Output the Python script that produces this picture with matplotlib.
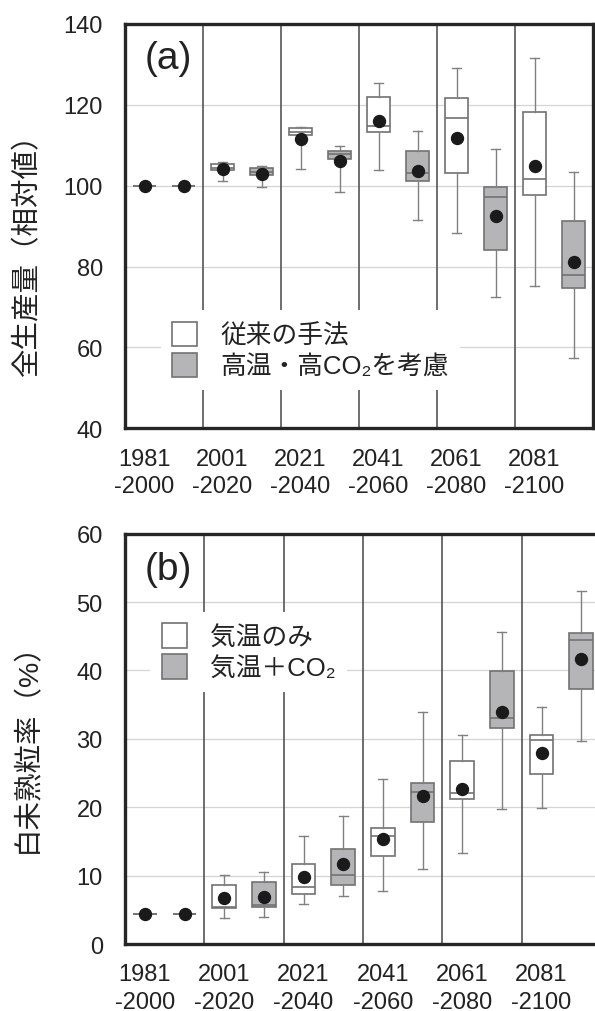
import matplotlib.pyplot as plt
from matplotlib.patches import Patch

plt.rcParams["font.family"] = ["Liberation Sans", "Noto Sans CJK JP", "DejaVu Sans"]

PERIODS = ["1981\n-2000", "2001\n-2020", "2021\n-2040",
           "2041\n-2060", "2061\n-2080", "2081\n-2100"]

# (a) total production, relative value (1981-2000 = 100)
A_CONV_LO = [100, 101.1, 104.2, 104.0, 88.3, 75.1]
A_CONV_Q1 = [100, 104.0, 112.6, 113.4, 103.2, 97.7]
A_CONV_MED = [100, 104.5, 113.4, 114.8, 116.8, 101.7]
A_CONV_Q3 = [100, 105.3, 114.3, 122.0, 121.6, 118.2]
A_CONV_HI = [100, 105.9, 114.5, 125.3, 129.1, 131.7]
A_CONV_MEAN = [100, 104.1, 111.6, 116.1, 111.9, 104.9]

A_CO2_LO = [100, 99.8, 98.5, 91.6, 72.5, 57.5]
A_CO2_Q1 = [100, 102.7, 106.5, 101.1, 84.1, 74.8]
A_CO2_MED = [100, 103.5, 107.9, 103.2, 97.1, 78.0]
A_CO2_Q3 = [100, 104.3, 108.6, 108.7, 99.7, 91.2]
A_CO2_HI = [100, 104.9, 109.7, 113.6, 109.0, 103.4]
A_CO2_MEAN = [100, 103.0, 106.2, 103.7, 92.6, 81.1]

# (b) chalky grain ratio (%)
B_TEMP_LO = [4.4, 3.85, 5.85, 7.75, 13.3, 19.95]
B_TEMP_Q1 = [4.4, 5.2, 7.35, 12.8, 21.2, 24.9]
B_TEMP_MED = [4.4, 5.4, 8.3, 15.8, 22.1, 29.8]
B_TEMP_Q3 = [4.4, 8.6, 11.75, 16.9, 26.8, 30.5]
B_TEMP_HI = [4.4, 10.1, 15.8, 24.1, 30.6, 34.6]
B_TEMP_MEAN = [4.4, 6.7, 9.75, 15.4, 22.7, 28.0]

B_CO2_LO = [4.4, 4.0, 7.0, 10.9, 19.7, 29.7]
B_CO2_Q1 = [4.4, 5.4, 8.7, 17.9, 31.55, 37.3]
B_CO2_MED = [4.4, 5.65, 10.05, 22.2, 33.0, 44.5]
B_CO2_Q3 = [4.4, 9.0, 13.85, 23.6, 39.95, 45.5]
B_CO2_HI = [4.4, 10.5, 18.7, 34.0, 45.6, 51.6]
B_CO2_MEAN = [4.4, 6.9, 11.65, 21.7, 33.9, 41.7]

GRAY = "#b5b5b8"
EDGE = "#727272"
TEXT = "#222222"


def make_stats(lo, q1, med, q3, hi, mean):
    return [dict(whislo=a, q1=b, med=c, q3=d, whishi=e, mean=f, fliers=[])
            for a, b, c, d, e, f in zip(lo, q1, med, q3, hi, mean)]


def draw_boxes(ax, stats, offset, face):
    positions = [i + offset for i in range(len(stats))]
    ax.bxp(stats, positions=positions, widths=0.3, capwidths=0.11,
           patch_artist=True, showmeans=True, showfliers=False,
           boxprops=dict(facecolor=face, edgecolor=EDGE, linewidth=1.2),
           medianprops=dict(color=EDGE, linewidth=1.2),
           whiskerprops=dict(color="#808080", linewidth=1.0),
           capprops=dict(color="#808080", linewidth=1.0),
           meanprops=dict(marker="o", markerfacecolor="#1a1a1a",
                          markeredgecolor="#1a1a1a", markersize=8.6),
           zorder=3)


def style_axes(ax, ylim, step):
    ax.set_xlim(0, 6)
    ax.set_ylim(*ylim)
    ax.set_yticks(range(ylim[0], ylim[1] + 1, step))
    ax.set_xticks([i + 0.25 for i in range(6)])
    ax.set_xticklabels(PERIODS, linespacing=1.3)
    ax.tick_params(axis="both", length=0, labelsize=17, colors=TEXT)
    ax.tick_params(axis="y", pad=16)
    ax.tick_params(axis="x", pad=14)
    ax.yaxis.grid(True, color="#d4d4d4", linewidth=0.9, zorder=0)
    ax.set_axisbelow(True)
    for x in range(1, 6):
        ax.axvline(x, color="#555555", linewidth=1.2, zorder=1)
    for sp in ax.spines.values():
        sp.set_linewidth(2.4)
        sp.set_color("#262626")


def add_legend(ax, labels, anchor):
    handles = [Patch(facecolor="white", edgecolor=EDGE, linewidth=1.2),
               Patch(facecolor=GRAY, edgecolor=EDGE, linewidth=1.2)]
    leg = ax.legend(handles, labels, loc="upper left", bbox_to_anchor=anchor,
                    fontsize=18.5, handlelength=0.97, handleheight=1.08,
                    handletextpad=0.9, labelspacing=0.2, borderpad=0.45,
                    borderaxespad=0, frameon=True, fancybox=False,
                    framealpha=1, facecolor="white", edgecolor="none")
    for t in leg.get_texts():
        t.set_color(TEXT)
    return leg


fig = plt.figure(figsize=(5.95, 10.12), dpi=100)
ax_a = fig.add_axes([0.2101, 0.5758, 0.7866, 0.3995])
ax_b = fig.add_axes([0.2101, 0.0662, 0.8000, 0.4054])

# panel (a)
style_axes(ax_a, (40, 140), 20)
draw_boxes(ax_a, make_stats(A_CONV_LO, A_CONV_Q1, A_CONV_MED, A_CONV_Q3,
                            A_CONV_HI, A_CONV_MEAN), 0.25, "white")
draw_boxes(ax_a, make_stats(A_CO2_LO, A_CO2_Q1, A_CO2_MED, A_CO2_Q3,
                            A_CO2_HI, A_CO2_MEAN), 0.75, GRAY)
ax_a.set_xticks([i + 0.25 for i in range(6)])
ax_a.set_xticklabels(PERIODS, linespacing=1.3)
ax_a.text(0.042, 0.915, "(a)", transform=ax_a.transAxes, fontsize=28,
          color=TEXT, va="center", ha="left")
ax_a.text(-0.207, 0.448, "全生産量（相対値）", transform=ax_a.transAxes,
          rotation=90, fontsize=20.5, color=TEXT, va="center", ha="center")
add_legend(ax_a, ["従来の手法", "高温・高CO₂を考慮"], (0.076, 0.292))

# panel (b)
style_axes(ax_b, (0, 60), 10)
draw_boxes(ax_b, make_stats(B_TEMP_LO, B_TEMP_Q1, B_TEMP_MED, B_TEMP_Q3,
                            B_TEMP_HI, B_TEMP_MEAN), 0.25, "white")
draw_boxes(ax_b, make_stats(B_CO2_LO, B_CO2_Q1, B_CO2_MED, B_CO2_Q3,
                            B_CO2_HI, B_CO2_MEAN), 0.75, GRAY)
ax_b.set_xticks([i + 0.25 for i in range(6)])
ax_b.set_xticklabels(PERIODS, linespacing=1.3)
ax_b.text(0.042, 0.915, "(b)", transform=ax_b.transAxes, fontsize=28,
          color=TEXT, va="center", ha="left")
ax_b.text(-0.204, 0.497, "白未熟粒率（%）", transform=ax_b.transAxes,
          rotation=90, fontsize=20.5, color=TEXT, va="center", ha="center")
add_legend(ax_b, ["気温のみ", "気温＋CO₂"], (0.053, 0.81))

fig.savefig("out.png", dpi=100)
